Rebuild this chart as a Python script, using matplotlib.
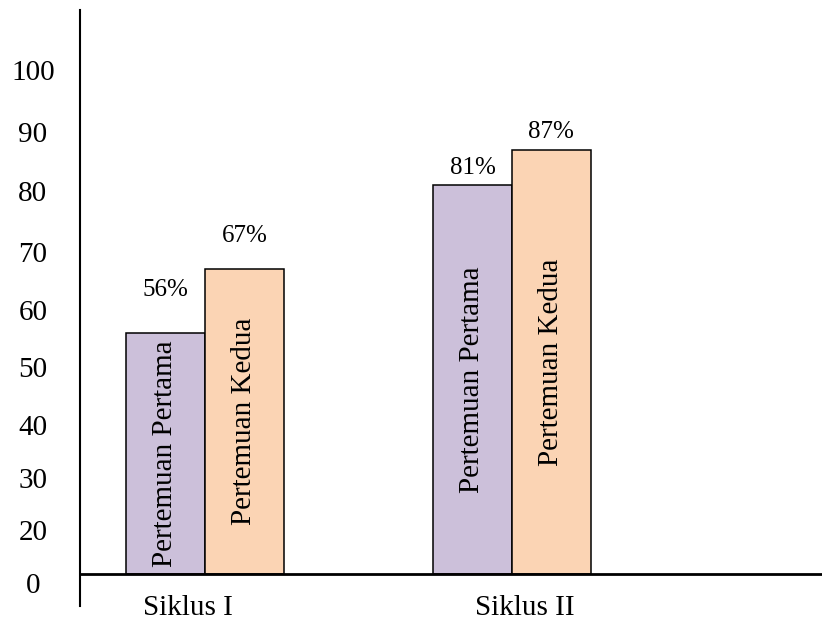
import numpy as np
import matplotlib
matplotlib.use('Agg')
import matplotlib.pyplot as plt
from matplotlib.transforms import ScaledTranslation

plt.rcParams['font.family'] = ['Liberation Serif', 'DejaVu Serif']

# data
siklus = ['Siklus I', 'Siklus II']
series_names = ['Pertemuan Pertama', 'Pertemuan Kedua']
pertama = [56, 81]
kedua = [67, 87]
ytick_values = [0, 20, 30, 40, 50, 60, 70, 80, 90, 100]

# the original y axis is hand-spaced: pixel height of each tick above the x axis line
ytick_px = [0, 44, 96, 149, 207, 264, 322, 383, 442, 504]
label_offsets = [[31, 24], [12, 13]]   # points above the bar top for the % labels
xlabel_shift = [-0.17, 0.13]            # inches, category labels are not centred in the original

knots_v = np.array([-100] + ytick_values + [200], dtype=float)
knots_h = np.array([-220] + ytick_px + [504 + 620], dtype=float)


def fwd(v):
    return np.interp(v, knots_v, knots_h)


def inv(h):
    return np.interp(h, knots_h, knots_v)


colors = ['#CCC0DA', '#FBD4B4']

fig = plt.figure(figsize=(8.22, 6.21), dpi=100)
ax = fig.add_axes([80 / 822, 15 / 621, 742 / 822, 596 / 621])
ax.set_yscale('function', functions=(fwd, inv))
ax.set_ylim(inv(-32), inv(564))
ax.set_xlim(-0.407, 2.01)

x = np.arange(len(siklus))
w = 0.257
for i, (vals, col) in enumerate(zip([pertama, kedua], colors)):
    xs = x + (i - 0.5) * w
    ax.bar(xs, vals, w, color=col, edgecolor='black', linewidth=1.1, zorder=2)
    for j, (xc, v) in enumerate(zip(xs, vals)):
        ax.annotate(f'{v}%', (xc, v), xytext=(0, label_offsets[j][i]),
                    textcoords='offset points', ha='center', va='center',
                    fontsize=18)
        ax.text(xc, inv(fwd(v) / 2), series_names[i], rotation=90,
                ha='center', va='center', fontsize=21, zorder=3)

for s in ['top', 'right']:
    ax.spines[s].set_visible(False)
ax.spines['left'].set_linewidth(1.5)
ax.spines['bottom'].set_position(('data', 0))
ax.spines['bottom'].set_linewidth(2)
ax.spines['bottom'].set_zorder(4)

ax.set_xticks(x, siklus)
ax.tick_params(axis='x', length=0, pad=15, labelsize=21)
for lab, dx in zip(ax.get_xticklabels(), xlabel_shift):
    lab.set_transform(lab.get_transform()
                      + ScaledTranslation(dx, 0, fig.dpi_scale_trans))

ax.set_yticks(ytick_values, [str(v) for v in ytick_values])
ax.tick_params(axis='y', length=0, pad=34, labelsize=21)
ylabels = ax.get_yticklabels()
for lab in ylabels:
    lab.set_horizontalalignment('center')
# the "0" sits just under the axis line in the original
ylabels[0].set_transform(ylabels[0].get_transform()
                         + ScaledTranslation(0, -0.09, fig.dpi_scale_trans))

fig.savefig('out.png', dpi=100)
